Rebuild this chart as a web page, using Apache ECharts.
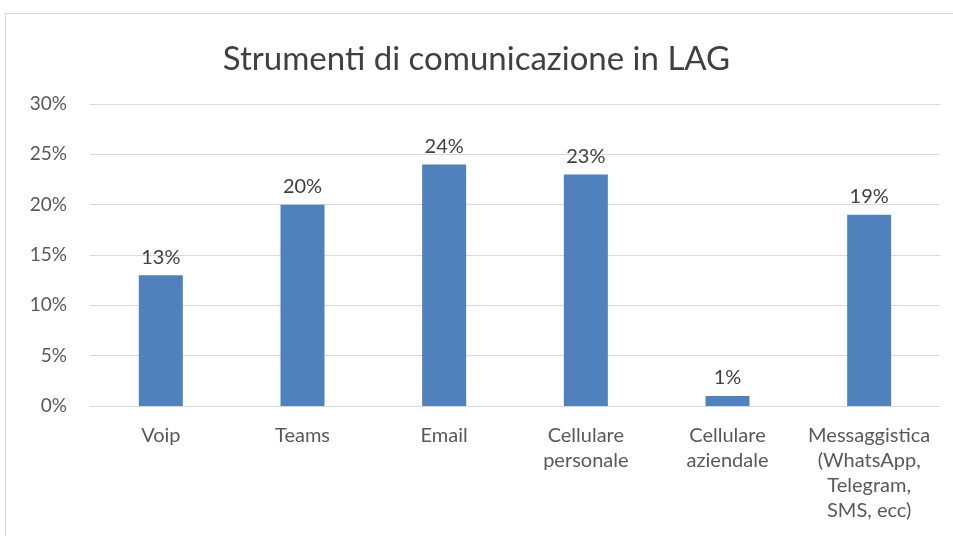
<!DOCTYPE html>
<html>
<head>
<meta charset="utf-8">
<script src="https://cdn.jsdelivr.net/npm/echarts@6/dist/echarts.min.js"></script>
<style>
  html, body { margin: 0; padding: 0; background: #fff; }
  #chart { width: 953px; height: 536px; }
</style>
</head>
<body>
<div id="chart"></div>
<script>
var categories = ['Voip', 'Teams', 'Email', 'Cellulare\npersonale', 'Cellulare\naziendale', 'Messaggistica\n(WhatsApp,\nTelegram,\nSMS, ecc)'];
var values = [13, 20, 24, 23, 1, 19];
var yTicks = [0, 5, 10, 15, 20, 25, 30];

var chart = echarts.init(document.getElementById('chart'));
chart.setOption({
  animation: false,
  textStyle: { fontFamily: 'Lato, "Open Sans", sans-serif' },
  title: {
    text: 'Strumenti di comunicazione in LAG',
    left: 'center',
    top: 38,
    textStyle: { fontSize: 33, fontWeight: 'normal', color: '#404040' }
  },
  graphic: [{
    type: 'rect',
    shape: { x: 5.5, y: 13.5, width: 960, height: 540 },
    style: { fill: 'none', stroke: '#d9d9d9', lineWidth: 1 },
    silent: true
  }],
  grid: { left: 90, right: 13, top: 104, bottom: 130 },
  xAxis: {
    type: 'category',
    data: categories,
    axisTick: { show: false },
    axisLine: { lineStyle: { color: '#d9d9d9', width: 1 } },
    axisLabel: { color: '#595959', fontSize: 20, lineHeight: 25, margin: 17, interval: 0 }
  },
  yAxis: {
    type: 'value',
    min: yTicks[0],
    max: yTicks[yTicks.length - 1],
    interval: 5,
    axisLine: { show: false },
    axisTick: { show: false },
    splitLine: { lineStyle: { color: '#d9d9d9', width: 1 } },
    axisLabel: { color: '#595959', fontSize: 19, margin: 23, formatter: '{value}%' }
  },
  series: [{
    type: 'bar',
    data: values,
    barWidth: 44,
    itemStyle: { color: '#4f81bd' },
    label: { show: true, position: 'top', distance: 8, color: '#404040', fontSize: 20, formatter: '{c}%' }
  }]
});
</script>
</body>
</html>
